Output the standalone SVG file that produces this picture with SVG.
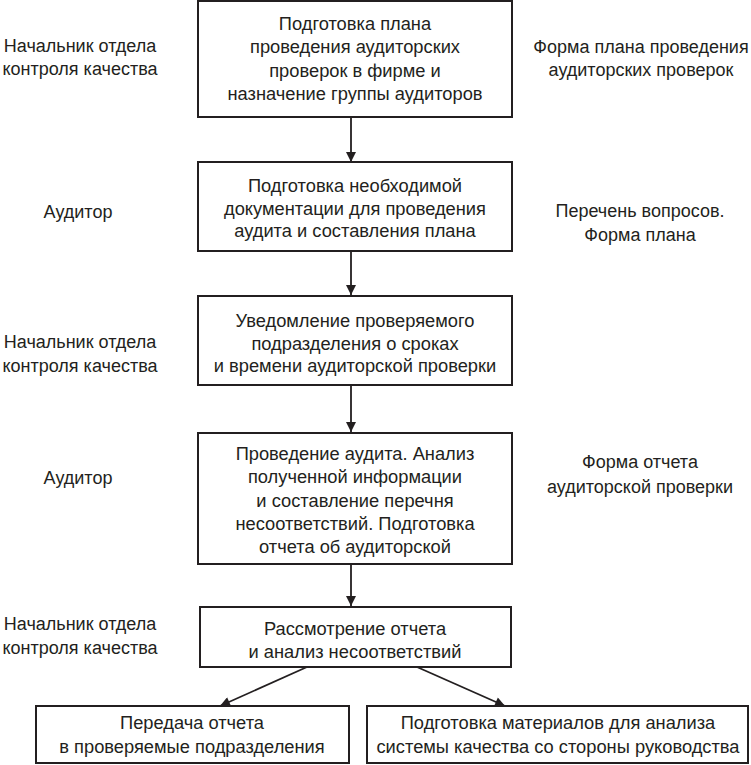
<svg xmlns="http://www.w3.org/2000/svg" width="751" height="765" viewBox="0 0 751 765">
<style>
text{font-family:"Liberation Sans","Noto Sans",Arial,sans-serif;font-size:18.3px;fill:#231f20;text-anchor:middle}
.lab{font-size:18px}
.box{fill:#fff;stroke:#231f20;stroke-width:2}
.con{stroke:#231f20;stroke-width:1.8;fill:none;marker-end:url(#ah)}
</style>
<defs>
<marker id="ah" viewBox="0 0 10 10" refX="10" refY="5" markerWidth="11" markerHeight="10" markerUnits="userSpaceOnUse" orient="auto"><path d="M0,0 L10,5 L0,10 z" fill="#231f20"/></marker>
</defs>
<rect width="751" height="765" fill="#fff"/>
<g id="connectors">
<path d="M351,117 V162" class="con"/>
<path d="M351,251 V295" class="con"/>
<path d="M351,385 V432" class="con"/>
<path d="M351,564 V606" class="con"/>
<path d="M307,667 L220,706" class="con"/>
<path d="M417,667 L505,706" class="con"/>
</g>
<g id="n1"><rect class="box" x="198" y="1" width="314" height="116"/>
<text x="355" y="30">Подготовка плана</text><text x="355" y="53">проведения аудиторских</text><text x="355" y="77">проверок в фирме и</text><text x="355" y="100">назначение группы аудиторов</text></g>
<g id="n2"><rect class="box" x="198" y="162" width="314" height="89"/>
<text x="355" y="192">Подготовка необходимой</text><text x="355" y="215">документации для проведения</text><text x="355" y="237">аудита и составления плана</text></g>
<g id="n3"><rect class="box" x="198" y="296" width="314" height="89"/>
<text x="355" y="327">Уведомление проверяемого</text><text x="355" y="350">подразделения о сроках</text><text x="355" y="372">и времени аудиторской проверки</text></g>
<g id="n4"><rect class="box" x="198" y="433" width="314" height="131"/>
<text x="355" y="460">Проведение аудита. Анализ</text><text x="355" y="483">полученной информации</text><text x="355" y="507">и составление перечня</text><text x="355" y="530">несоответствий. Подготовка</text><text x="355" y="553">отчета об аудиторской</text></g>
<g id="n5"><rect class="box" x="200" y="607" width="311" height="60"/>
<text x="355" y="635">Рассмотрение отчета</text><text x="355" y="658">и анализ несоответствий</text></g>
<g id="n6"><rect class="box" x="36" y="706" width="313" height="57"/>
<text x="192" y="729">Передача отчета</text><text x="192" y="753">в проверяемые подразделения</text></g>
<g id="n7"><rect class="box" x="367" y="706" width="381" height="57"/>
<text x="558" y="729">Подготовка материалов для анализа</text><text x="558" y="753">системы качества со стороны руководства</text></g>
<g id="labels">
<text class="lab" x="80" y="52">Начальник отдела</text><text class="lab" x="80" y="75">контроля качества</text>
<text class="lab" x="641" y="53">Форма плана проведения</text><text class="lab" x="641" y="76">аудиторских проверок</text>
<text class="lab" x="78" y="218">Аудитор</text>
<text class="lab" x="640" y="217">Перечень вопросов.</text><text class="lab" x="640" y="241">Форма плана</text>
<text class="lab" x="80" y="348">Начальник отдела</text><text class="lab" x="80" y="372">контроля качества</text>
<text class="lab" x="78" y="484">Аудитор</text>
<text class="lab" x="640" y="468">Форма отчета</text><text class="lab" x="640" y="493">аудиторской проверки</text>
<text class="lab" x="80" y="630">Начальник отдела</text><text class="lab" x="80" y="654">контроля качества</text>
</g>
</svg>
